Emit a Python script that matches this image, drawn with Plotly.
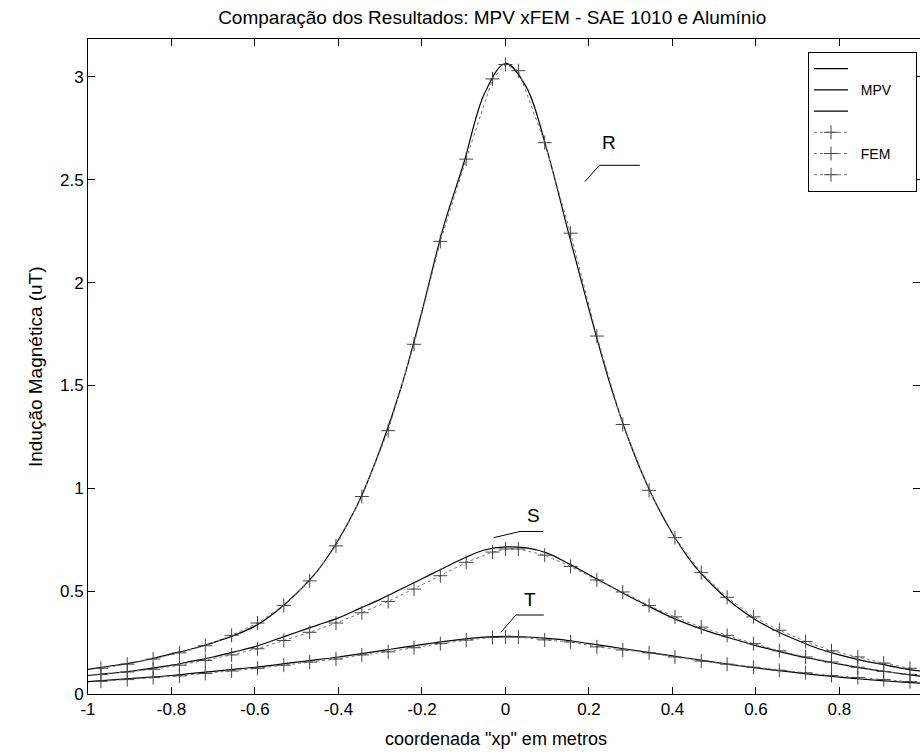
import plotly.graph_objects as go

# ---- data ----
x_mpv = [round(-1 + 0.05 * i, 2) for i in range(41)]
r_mpv = [0.12, 0.135, 0.15, 0.17, 0.195, 0.22, 0.25, 0.285, 0.33, 0.40,
         0.49, 0.60, 0.75, 0.94, 1.19, 1.49, 1.86, 2.26, 2.58, 2.92,
         3.065, 2.95, 2.64, 2.25, 1.87, 1.51, 1.21, 0.97, 0.78, 0.63,
         0.52, 0.43, 0.36, 0.305, 0.26, 0.22, 0.19, 0.165, 0.145, 0.125, 0.11]
s_mpv = [0.09, 0.10, 0.11, 0.125, 0.14, 0.16, 0.18, 0.205, 0.23, 0.265,
         0.30, 0.335, 0.37, 0.415, 0.46, 0.51, 0.56, 0.61, 0.66, 0.70,
         0.715, 0.71, 0.685, 0.635, 0.58, 0.525, 0.47, 0.42, 0.37, 0.33,
         0.295, 0.265, 0.235, 0.21, 0.185, 0.165, 0.145, 0.127, 0.112, 0.098, 0.085]
t_mpv = [0.06, 0.067, 0.075, 0.082, 0.09, 0.10, 0.11, 0.12, 0.13, 0.142,
         0.155, 0.167, 0.18, 0.195, 0.21, 0.225, 0.24, 0.255, 0.267, 0.276,
         0.28, 0.277, 0.27, 0.26, 0.245, 0.23, 0.215, 0.2, 0.185, 0.17,
         0.155, 0.14, 0.127, 0.115, 0.103, 0.092, 0.082, 0.073, 0.065, 0.058, 0.052]

x_fem = [-0.969, -0.906, -0.844, -0.781, -0.719, -0.656, -0.594, -0.531,
         -0.469, -0.406, -0.344, -0.281, -0.219, -0.156, -0.094, -0.031, 0.0,
         0.031, 0.094, 0.156, 0.219, 0.281, 0.344, 0.406, 0.469,
         0.531, 0.594, 0.656, 0.719, 0.781, 0.844, 0.906, 0.969]
r_fem = [0.125, 0.145, 0.17, 0.20, 0.235, 0.285, 0.345, 0.43,
         0.55, 0.72, 0.96, 1.28, 1.70, 2.20, 2.60, 2.99, 3.06,
         3.03, 2.68, 2.24, 1.74, 1.31, 0.99, 0.76, 0.59,
         0.47, 0.375, 0.31, 0.255, 0.21, 0.18, 0.15, 0.125]
s_fem = [0.095, 0.107, 0.12, 0.14, 0.163, 0.19, 0.22, 0.26,
         0.30, 0.345, 0.395, 0.45, 0.51, 0.575, 0.64, 0.69, 0.705,
         0.705, 0.675, 0.62, 0.554, 0.496, 0.43, 0.375, 0.325,
         0.285, 0.245, 0.21, 0.18, 0.155, 0.13, 0.11, 0.095]
t_fem = [0.062, 0.07, 0.08, 0.088, 0.10, 0.112, 0.125, 0.14,
         0.155, 0.17, 0.19, 0.205, 0.225, 0.245, 0.262, 0.275, 0.277,
         0.277, 0.263, 0.253, 0.229, 0.214, 0.2, 0.18, 0.16,
         0.145, 0.13, 0.115, 0.103, 0.09, 0.08, 0.07, 0.06]

x_ticks = [-1, -0.8, -0.6, -0.4, -0.2, 0, 0.2, 0.4, 0.6, 0.8]
x_ticktext = ["-1", "-0.8", "-0.6", "-0.4", "-0.2", "0", "0.2", "0.4", "0.6", "0.8"]
y_ticks = [0, 0.5, 1, 1.5, 2, 2.5, 3]
y_ticktext = ["0", "0.5", "1", "1.5", "2", "2.5", "3"]

labels = ["R", "S", "T"]
label_pos = [(0.247, 2.68), (0.066, 0.87), (0.059, 0.457)]
leader_h = [(0.225, 0.322, 2.57), (0.035, 0.09, 0.79), (0.025, 0.092, 0.384)]
leader_d = [(0.19, 2.49), (-0.028, 0.76), (-0.011, 0.30)]

FONT = "Liberation Sans, Arial, sans-serif"
NB = "\u00a0"

fig = go.Figure()
mpv_names = [NB, NB * 2 + "MPV" + NB * 5, NB]
fem_names = [NB, NB * 2 + "FEM" + NB * 5, NB]
for y, nm in zip([r_mpv, s_mpv, t_mpv], mpv_names):
    fig.add_trace(go.Scatter(x=x_mpv, y=y, mode="lines", name=nm,
                             line=dict(color="black", width=1.2, shape="spline")))
for y, nm in zip([r_fem, s_fem, t_fem], fem_names):
    fig.add_trace(go.Scatter(x=x_fem, y=y, mode="lines+markers", name=nm,
                             line=dict(color="#777777", width=1, dash="dot"),
                             marker=dict(symbol="cross-thin", size=10,
                                         line=dict(color="#444444", width=1))))

for lab, (lx, ly), (h0, h1, hy), (dx, dy) in zip(labels, label_pos, leader_h, leader_d):
    fig.add_annotation(x=lx, y=ly, text=lab, showarrow=False,
                       font=dict(family=FONT, size=19, color="black"))
    fig.add_shape(type="line", x0=h0, x1=h1, y0=hy, y1=hy,
                  line=dict(color="black", width=1))
    fig.add_shape(type="line", x0=h0, y0=hy, x1=dx, y1=dy,
                  line=dict(color="black", width=1))

fig.add_annotation(xref="paper", yref="paper", x=-0.078, y=0.5,
                   text="Indução Magnética (uT)", textangle=-90, showarrow=False,
                   font=dict(family=FONT, size=19, color="black"))
fig.add_annotation(xref="paper", yref="paper", x=0.49, y=-0.068,
                   text='coordenada "xp" em metros', showarrow=False,
                   yanchor="middle",
                   font=dict(family=FONT, size=18, color="black"))

fig.update_layout(
    width=920, height=755,
    margin=dict(l=88, r=0, t=39, b=61),
    paper_bgcolor="white", plot_bgcolor="white",
    title=dict(text="Comparação dos Resultados: MPV xFEM - SAE 1010 e Alumínio",
               x=0.535, xanchor="center", y=1 - 17 / 755, yanchor="middle",
               font=dict(family=FONT, size=19, color="black")),
    font=dict(family=FONT, size=16, color="black"),
    showlegend=True,
    legend=dict(x=0.9964, xanchor="right", y=0.98, yanchor="top",
                bgcolor="white", bordercolor="black", borderwidth=1,
                font=dict(family=FONT, size=14, color="black"),
                tracegroupgap=0, itemwidth=34),
    xaxis=dict(range=[-1, 0.993], tickvals=x_ticks, ticktext=x_ticktext,
               showgrid=False, zeroline=False, showline=True, linecolor="black",
               linewidth=1, mirror="ticks", ticks="inside", ticklen=7,
               tickcolor="black", tickfont=dict(family=FONT, size=17)),
    yaxis=dict(range=[0, 3.184], tickvals=y_ticks, ticktext=y_ticktext,
               showgrid=False, zeroline=False, showline=True, linecolor="black",
               linewidth=1, mirror="ticks", ticks="inside", ticklen=7,
               tickcolor="black", tickfont=dict(family=FONT, size=17)),
)

fig.write_html("out.html")
